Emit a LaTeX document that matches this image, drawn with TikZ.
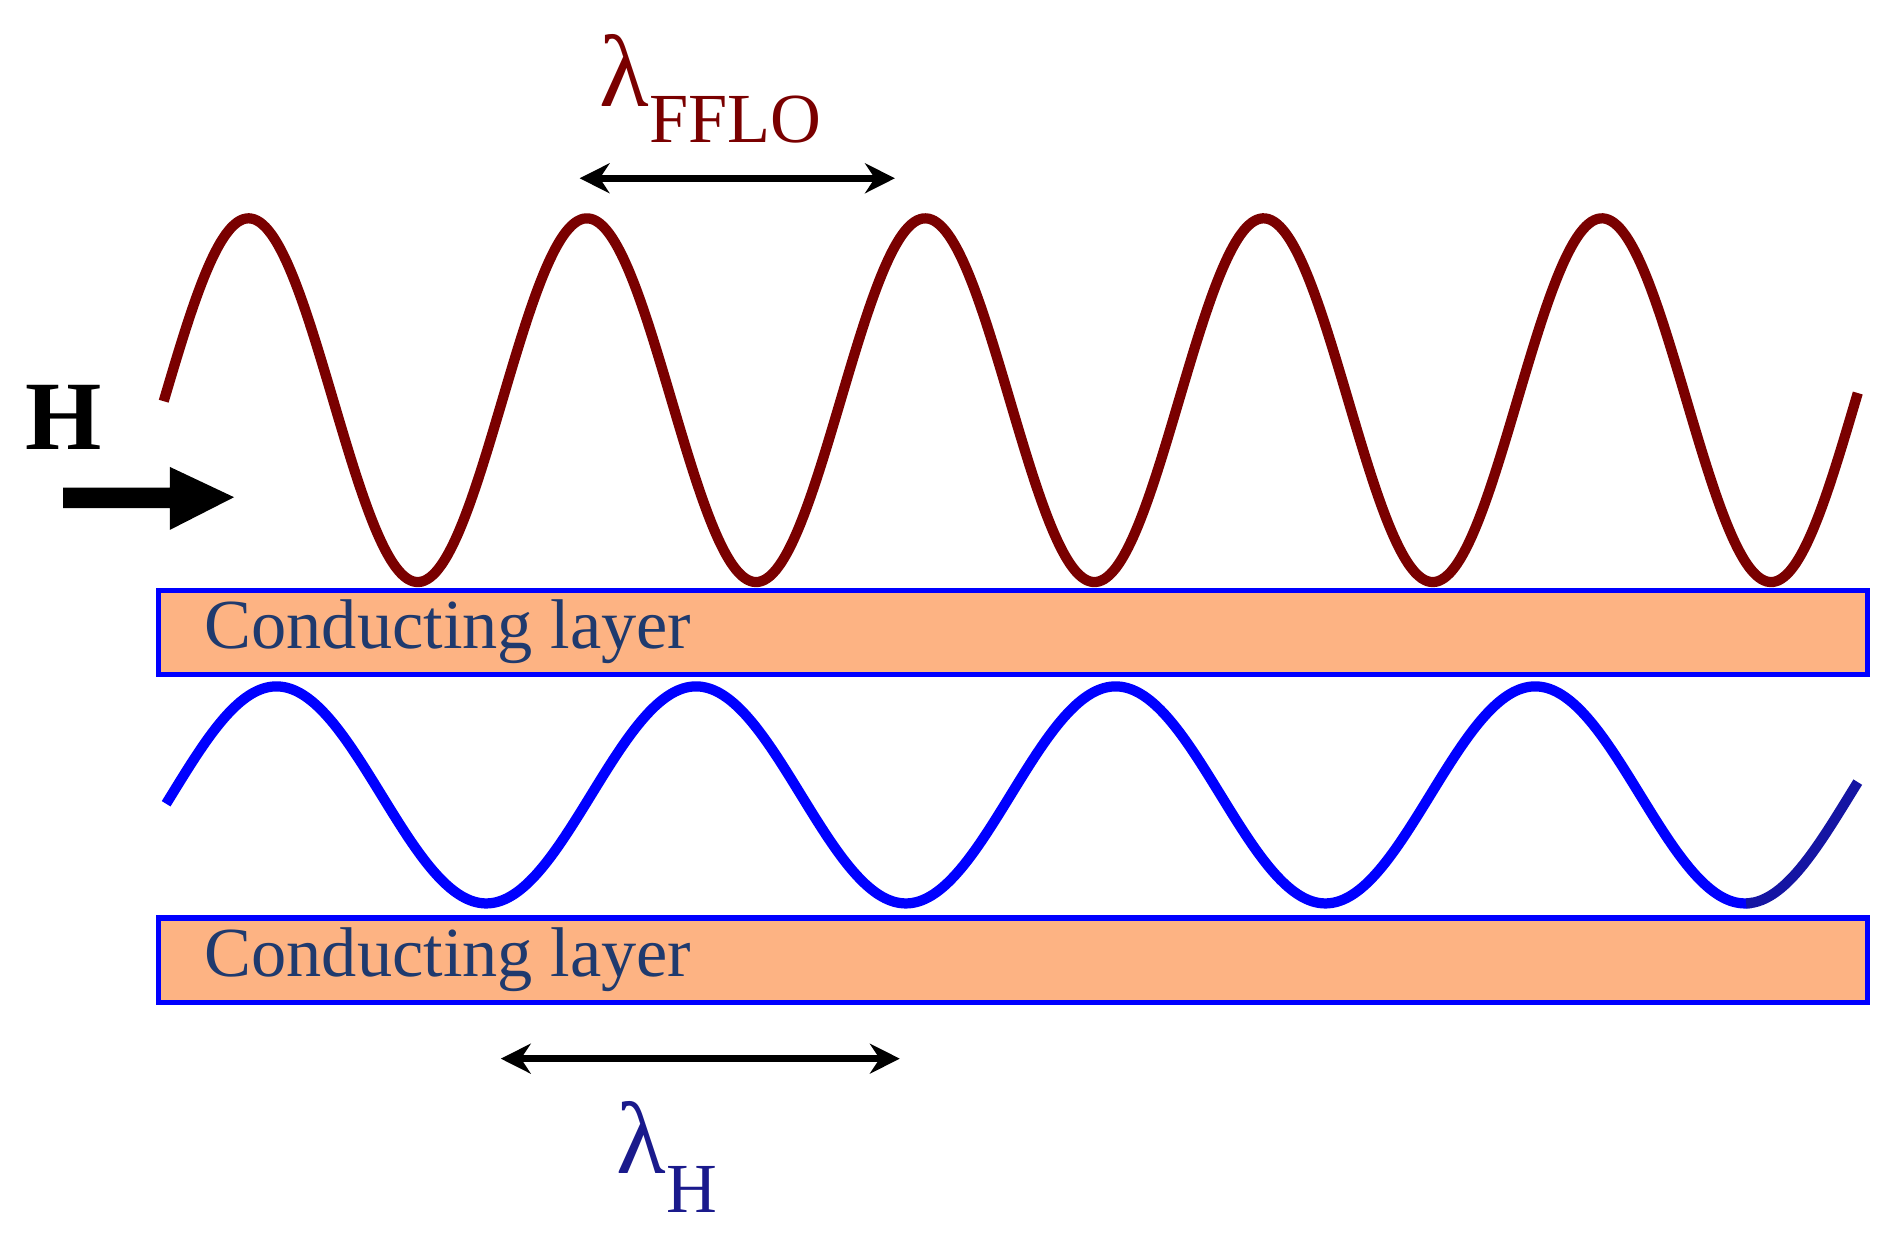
\documentclass[tikz,border=0pt]{standalone}
\usepackage{fontspec}
\setmainfont{Liberation Serif}
\usetikzlibrary{arrows.meta}
\definecolor{wred}{HTML}{7A0000}
\definecolor{lay}{HTML}{FDB383}
\definecolor{navy}{HTML}{1F3A6E}
\definecolor{lblue}{HTML}{1A1A8C}
\begin{document}
\begin{tikzpicture}[x=0.01cm,y=-0.01cm,
  layer/.style={draw=blue,line width=1.2pt,fill=lay},
  laytext/.style={text=navy,font=\fontsize{16.5}{16.5}\selectfont,anchor=base west,inner sep=0pt},
  dbl/.style={{Stealth[length=7pt,width=7pt]}-{Stealth[length=7pt,width=7pt]},line width=1.6pt}]
\useasboundingbox (0,0) rectangle (1566,1023);
% red wave
\draw[wred,line width=2.4pt,line join=round] plot[domain=135:1532,samples=300,smooth] (\x,{330-150*cos(1.290323*(\x-205))});
% blue wave
\draw[blue,line width=2.4pt,line join=round] plot[domain=137:1445,samples=280,smooth] (\x,{655.5-89.5*cos(1.040462*(\x-228))});
\draw[lblue!80!blue,line width=2.4pt,line join=round] plot[domain=1440:1532,samples=30,smooth] (\x,{655.5-89.5*cos(1.040462*(\x-228))});
% layers
\path[layer] (131,487) rectangle (1540,556);
\path[layer] (131,757) rectangle (1540,827);
\node[laytext] (t1) at (168,535) {Conducting layer};
\node[laytext] (t2) at (168,805) {Conducting layer};
% H arrow
\node[font=\fontsize{23}{23}\selectfont\bfseries,anchor=base west,inner sep=0pt] (H) at (20,371) {H};
\fill (52,402) -- (140,402) -- (140,385) -- (193,410) -- (140,437) -- (140,419) -- (52,419) -- cycle;
% lambda FFLO
\coordinate (a1) at (478,147); \coordinate (a2) at (738,147);
\draw[dbl] (a1) -- (a2);
\node[text=wred,anchor=base west,inner sep=0pt,font=\fontsize{24}{24}\selectfont] (lf) at (494,88) {λ\raisebox{-8.5pt}{\fontsize{16.5}{16.5}\selectfont FFLO}};
% lambda H
\coordinate (b1) at (413,873); \coordinate (b2) at (742,873);
\draw[dbl] (b1) -- (b2);
\node[text=lblue,anchor=base west,inner sep=0pt,font=\fontsize{24}{24}\selectfont] (lh) at (508,968) {λ\raisebox{-9pt}{\fontsize{16.5}{16.5}\selectfont H}};
\end{tikzpicture}
\end{document}
